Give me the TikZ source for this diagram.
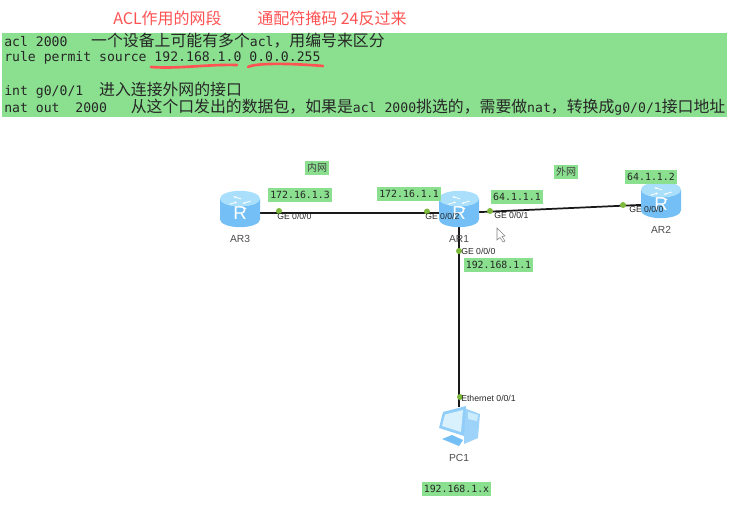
\documentclass[tikz,border=0pt]{standalone}
\usepackage{fontspec}
\setmainfont{Liberation Sans}
\setmonofont{DejaVu Sans Mono}
\newfontfamily\cjkfont{Noto Sans CJK SC}
\usetikzlibrary{arrows.meta,positioning,shapes.geometric,backgrounds}
\definecolor{bandgreen}{HTML}{8AE08F}
\definecolor{notered}{HTML}{FF5252}
\definecolor{portgreen}{HTML}{7DB93C}
\definecolor{routertop}{HTML}{A9DFFB}
\definecolor{routerbody}{HTML}{74C0F6}
\newcommand{\cn}[1]{{\fontsize{11.9pt}{14pt}\selectfont\cjkfont #1}}

\begin{document}
\begin{tikzpicture}[
    x=0.75pt, y=-0.75pt,
    codeline/.style={anchor=west, inner sep=0pt, font=\ttfamily\fontsize{9.85pt}{12pt}\selectfont, text=black!85},
    title/.style={anchor=west, inner sep=0pt, text=notered, font=\cjkfont\fontsize{12pt}{14pt}\selectfont},
    iplbl/.style={fill=bandgreen, inner sep=1.5pt, text height=6.5pt, text depth=1pt, font=\ttfamily\fontsize{7.4pt}{9pt}\selectfont, text=black!85},
    zonelbl/.style={fill=bandgreen, inner sep=1.5pt, font=\cjkfont\fontsize{7.5pt}{9pt}\selectfont, text=black!75},
    router/.style={cylinder, shape border rotate=90, aspect=1.15, draw=none, inner sep=0pt,
      minimum width=30pt, minimum height=26pt, cylinder uses custom fill,
      cylinder body fill=routerbody, cylinder end fill=routertop,
      text=white, font=\fontsize{14pt}{14pt}\selectfont},
    devlbl/.style={inner sep=0pt, font=\fontsize{7.7pt}{9pt}\selectfont, text=black!70},
    portlbl/.style={anchor=west, inner sep=0pt, font=\fontsize{6.5pt}{8pt}\selectfont, text=black!85},
    port/.style={circle, fill=portgreen, inner sep=0pt, minimum size=4.5pt},
    link/.style={line width=1.3pt, black!90},
    underln/.style={notered, line width=2pt, line cap=round},
  ]
  \useasboundingbox (0,0) rectangle (735,525);

  % note band
  \node[fill=bandgreen, minimum width=543.75pt, minimum height=63pt, inner sep=0pt, anchor=north west] (band) at (2,33) {};
  \node[title] (t1) at (113,18) {ACL作用的网段};
  \node[title] (t2) at (257,18) {通配符掩码 24反过来};
  \node[codeline] (l1) at (4,41) {acl 2000~~~\cn{一个设备上可能有多个}acl\cn{，用编号来区分}};
  \node[codeline] (l2) at (4,58) {rule permit source 192.168.1.0 0.0.0.255};
  \node[codeline] (l3) at (4,90) {int g0/0/1~~\cn{进入连接外网的接口}};
  \node[codeline] (l4) at (4,107) {nat out~~2000~~~\cn{从这个口发出的数据包，如果是}acl 2000\cn{挑选的，需要做}nat\cn{，转换成}g0/0/1\cn{接口地址}};
  \draw[underln] (151,67) .. controls (180,69) and (210,64) .. (237,65);
  \draw[underln] (248,67) .. controls (258,62) and (300,64) .. (323,66);

  % devices
  \node[router] (AR3) at (240,213) {R};
  \node[router] (AR1) at (459,213) {R};
  \node[router] (AR2) at (661,204) {R};
  \node[devlbl, below=6pt of AR3] (nAR3) {AR3};
  \node[devlbl, below=6pt of AR1] (nAR1) {AR1};
  \node[devlbl, below=6pt of AR2] (nAR2) {AR2};
  \foreach \r in {AR3,AR1,AR2} {
    \draw[white, line width=0.6pt, -{Stealth[length=2pt]}] ([xshift=-8pt,yshift=6.5pt]\r.center) -- ++(8,-2.5);
    \draw[white, line width=0.6pt, -{Stealth[length=2pt]}] ([xshift=8pt,yshift=9pt]\r.center) -- ++(-8,2.5);
    \draw[white, line width=0.6pt, -{Stealth[length=2pt]}] ([xshift=-1pt,yshift=5pt]\r.center) -- ++(8,2.5);
    \draw[white, line width=0.6pt, -{Stealth[length=2pt]}] ([xshift=1pt,yshift=10.5pt]\r.center) -- ++(-8,-2.5);
  }

  % PC icon
  \node[minimum width=30pt, minimum height=27pt, inner sep=0pt] (PC1) at (459,425) {};
  \fill[routerbody!70] (464,408) -- (480,414) -- (478,438) -- (464,444) -- cycle;
  \fill[routertop!60] (468,412) -- (478,415) -- (477,421) -- (468,419) -- cycle;
  \fill[routerbody] (442,439) -- (452,435) -- (463,440) -- (459,446) -- cycle;
  \fill[routerbody!80] (443,412) -- (466,406) -- (464,436) -- (439,428) -- cycle;
  \fill[routertop!45] (445,414.5) -- (463,410) -- (461,432) -- (442,426) -- cycle;
  \node[devlbl, below=8pt of PC1] (nPC1) {PC1};

  % links
  \begin{scope}[on background layer]
    \draw[link] (AR3.center) -- (AR1.center);
    \draw[link] (AR1.center) -- (AR2.center);
    \draw[link] (AR1.center) -- (PC1.north);
  \end{scope}

  \node[port] (p1) at (279,211) {};
  \node[port] (p2) at (427,211.5) {};
  \node[port] (p3) at (490,211) {};
  \node[port] (p4) at (623,205) {};
  \node[port] (p5) at (459,251) {};
  \node[port] (p6) at (460,397) {};
  \node[portlbl] (g1) at (277,216) {GE 0/0/0};
  \node[portlbl] (g2) at (425,216) {GE 0/0/2};
  \node[portlbl] (g3) at (494,215) {GE 0/0/1};
  \node[portlbl] (g4) at (629,209) {GE 0/0/0};
  \node[portlbl] (g5) at (461,251) {GE 0/0/0};
  \node[portlbl] (g6) at (461,398) {Ethernet 0/0/1};

  % addresses
  \node[zonelbl] (inner) at (317,168) {内网};
  \node[zonelbl] (outer) at (566,172) {外网};
  \node[iplbl] (ip1) at (300,195) {172.16.1.3};
  \node[iplbl] (ip2) at (409,194) {172.16.1.1};
  \node[iplbl] (ip3) at (517,197) {64.1.1.1};
  \node[iplbl] (ip4) at (651,177) {64.1.1.2};
  \node[iplbl] (ip5) at (498.5,265) {192.168.1.1};
  \node[iplbl] (ip6) at (456.5,489) {192.168.1.x};

  % cursor
  \draw[black!50, fill=white, line width=0.4pt] (497,228) -- (497,240) -- (500,237.5) -- (503,242) -- (505,241) -- (502,236.5) -- (505,236) -- cycle;
\end{tikzpicture}
\end{document}
